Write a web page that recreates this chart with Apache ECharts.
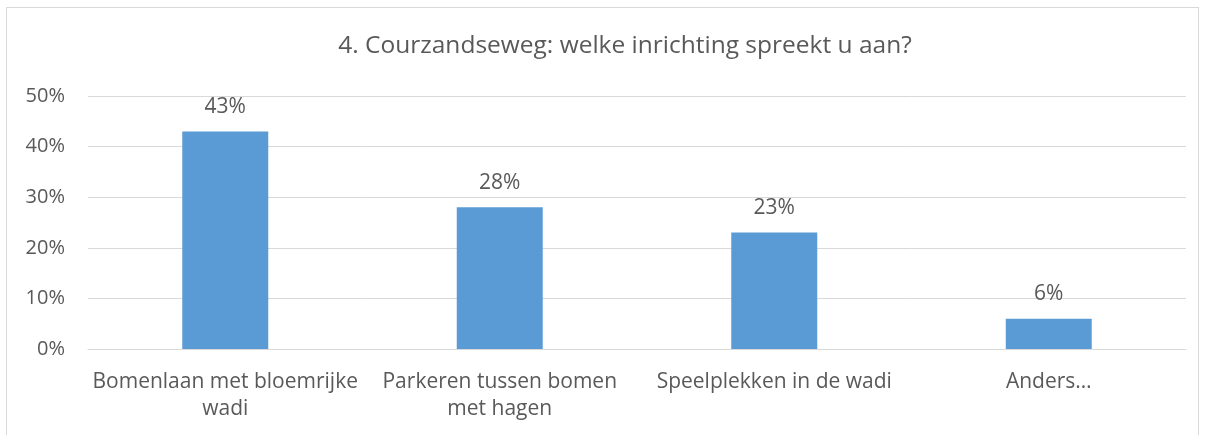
<!DOCTYPE html>
<html>
<head>
<meta charset="utf-8">
<script src="https://cdn.jsdelivr.net/npm/echarts@6/dist/echarts.min.js"></script>
<style>
  html, body { margin: 0; padding: 0; background: #fff; }
  #frame {
    position: absolute;
    left: 6px;
    top: 7px;
    width: 1191px;
    height: 460px;
    border: 1px solid #d9d9d9;
  }
  #chart {
    position: absolute;
    left: 0;
    top: 0;
    width: 1212px;
    height: 435px;
  }
</style>
</head>
<body>
<div id="frame"></div>
<div id="chart"></div>
<script>
const titleText = "4. Courzandseweg: welke inrichting spreekt u aan?";
const categories = [
  "Bomenlaan met bloemrijke\nwadi",
  "Parkeren tussen bomen\nmet hagen",
  "Speelplekken in de wadi",
  "Anders…",
];
const values = [43, 28, 23, 6];

const textColor = "#595959";
const fontName = "'Open Sans', sans-serif";

const myChart = echarts.init(document.getElementById("chart"));
const option = {
  animation: false,
  title: {
    text: titleText,
    left: 620,
    textAlign: "center",
    top: 29,
    textStyle: {
      color: textColor,
      fontSize: 24.5,
      fontWeight: "normal",
      fontFamily: fontName,
    },
  },
  grid: {
    left: 88,
    right: 26,
    top: 96,
    bottom: 86,
  },
  xAxis: {
    type: "category",
    data: categories,
    axisLine: { lineStyle: { color: "#d9d9d9", width: 1 } },
    axisTick: { show: false },
    axisLabel: {
      color: textColor,
      fontSize: 21,
      fontFamily: fontName,
      margin: 20,
      lineHeight: 27,
      interval: 0,
    },
  },
  yAxis: {
    type: "value",
    min: 0,
    max: 50,
    interval: 10,
    axisLine: { show: false },
    axisTick: { show: false },
    splitLine: { lineStyle: { color: "#d9d9d9", width: 1 } },
    axisLabel: {
      color: textColor,
      fontSize: 20,
      fontFamily: fontName,
      margin: 23,
      formatter: "{value}%",
    },
  },
  series: [
    {
      type: "bar",
      data: values,
      barWidth: 86,
      itemStyle: { color: "#5b9bd5" },
      label: {
        show: true,
        position: "top",
        distance: 14,
        color: textColor,
        fontSize: 21,
        fontFamily: fontName,
        formatter: "{c}%",
      },
    },
  ],
};
myChart.setOption(option);
</script>
</body>
</html>
